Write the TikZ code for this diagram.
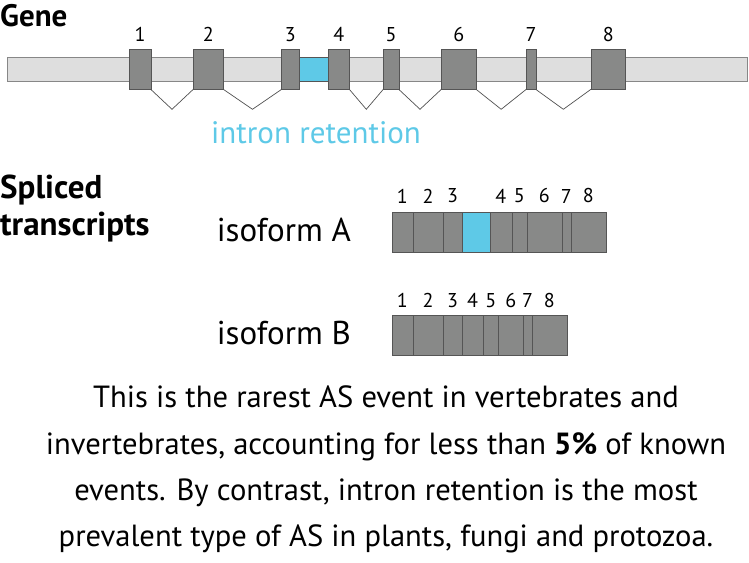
\documentclass[tikz,border=0pt]{standalone}
\usepackage{fontspec}
\setmainfont{PT Sans}
\usetikzlibrary{positioning,calc}

\definecolor{exongray}{RGB}{136,137,136}
\definecolor{exonline}{RGB}{85,85,85}
\definecolor{barfill}{RGB}{222,222,222}
\definecolor{barline}{RGB}{135,135,135}
\definecolor{retaincyan}{RGB}{94,201,231}
\definecolor{introngray}{RGB}{80,80,80}

\begin{document}
\begin{tikzpicture}[x=1pt, y=-1pt]
        \tikzstyle{exon} = [draw=exonline, fill=exongray, rectangle, inner sep=0pt, outer sep=0pt, minimum height=40pt];
        \tikzstyle{retained} = [draw=exonline, fill=retaincyan, rectangle, inner sep=0pt, outer sep=0pt, minimum height=23.7pt];
        \tikzstyle{segment} = [draw=exonline, fill=exongray, rectangle, inner sep=0pt, outer sep=0pt, minimum height=40pt];
        \tikzstyle{num} = [inner sep=0pt, font=\fontsize{20}{24}\selectfont];
        \tikzstyle{intron} = [draw=introngray, line width=0.7pt];

        \useasboundingbox (0,0) rectangle (749,562);

        % gene
        \node(gene)[anchor=base west, inner sep=0pt, font=\bfseries\fontsize{31}{36}\selectfont] at (0,27){Gene};
        \node(bar)[draw=barline, fill=barfill, rectangle, inner sep=0pt, outer sep=0pt, minimum width=740pt, minimum height=23.7pt] at (377.5,69.2){};

        \node(e1)[exon, minimum width=21.4pt] at (140,69.3){};
        \node(e2)[exon, minimum width=30pt] at (208.3,69.3){};
        \node(e3)[exon, minimum width=17.3pt] at (290.3,69.3){};
        \node(ri)[retained, minimum width=29.3pt] at (313.7,69.2){};
        \node(e4)[exon, minimum width=21pt] at (338.8,69.3){};
        \node(e5)[exon, minimum width=15.4pt] at (391,69.3){};
        \node(e6)[exon, minimum width=34.7pt] at (458.7,69.3){};
        \node(e7)[exon, minimum width=9.4pt] at (531,69.3){};
        \node(e8)[exon, minimum width=34.7pt] at (608.3,69.3){};

        \node(n1)[num, above=7.6pt of e1]{1};
        \node(n2)[num, above=7.6pt of e2]{2};
        \node(n3)[num, above=7.6pt of e3]{3};
        \node(n4)[num, above=7.6pt of e4]{4};
        \node(n5)[num, above=7.6pt of e5]{5};
        \node(n6)[num, above=7.6pt of e6]{6};
        \node(n7)[num, above=7.6pt of e7]{7};
        \node(n8)[num, above=7.6pt of e8]{8};

        % introns spliced out
        \draw[intron] (e1.south east) -- ($(e1.south east)!0.5!(e2.south west)+(0,20)$) -- (e2.south west);
        \draw[intron] (e2.south east) -- ($(e2.south east)!0.5!(e3.south west)+(0,20)$) -- (e3.south west);
        \draw[intron] (e4.south east) -- ($(e4.south east)!0.5!(e5.south west)+(0,20)$) -- (e5.south west);
        \draw[intron] (e5.south east) -- ($(e5.south east)!0.5!(e6.south west)+(0,20)$) -- (e6.south west);
        \draw[intron] (e6.south east) -- ($(e6.south east)!0.5!(e7.south west)+(0,20)$) -- (e7.south west);
        \draw[intron] (e7.south east) -- ($(e7.south east)!0.5!(e8.south west)+(0,20)$) -- (e8.south west);

        \node(irlabel)[anchor=base, inner sep=0pt, text=retaincyan, font=\fontsize{31}{36}\selectfont] at (316,143.3){intron retention};

        % spliced transcripts
        \node(spliced)[anchor=north west, inner sep=0pt, align=left, font=\bfseries\fontsize{33}{36.7}\selectfont] at (0,175){Spliced\\transcripts};
        \node(isoA)[anchor=base west, inner sep=0pt, font=\fontsize{33}{38}\selectfont] at (216.7,241.5){isoform A};
        \node(isoB)[anchor=base west, inner sep=0pt, font=\fontsize{33}{38}\selectfont] at (216.7,344){isoform B};

        \node(a1)[segment, minimum width=21pt, anchor=west] at (391.7,232.3){};
        \node(a2)[segment, minimum width=30.6pt, right=0pt of a1]{};
        \node(a3)[segment, minimum width=18.4pt, right=0pt of a2]{};
        \node(ar)[segment, fill=retaincyan, minimum width=28.3pt, right=0pt of a3]{};
        \node(a4)[segment, minimum width=21.7pt, right=0pt of ar]{};
        \node(a5)[segment, minimum width=15pt, right=0pt of a4]{};
        \node(a6)[segment, minimum width=35pt, right=0pt of a5]{};
        \node(a7)[segment, minimum width=9pt, right=0pt of a6]{};
        \node(a8)[segment, minimum width=35pt, right=0pt of a7]{};

        \node(an1)[num, above=9pt of a1]{1};
        \node(an2)[num, above=9pt of a2]{2};
        \node(an3)[num, above=9pt of a3]{3};
        \node(an4)[num, above=9pt of a4]{4};
        \node(an5)[num, above=9pt of a5]{5};
        \node(an6)[num, above=9pt of a6]{6};
        \node(an7)[num, above=9pt of a7]{7};
        \node(an8)[num, above=9pt of a8]{8};

        \node(b1)[segment, minimum width=21pt, anchor=west] at (391.7,334.8){};
        \node(b2)[segment, minimum width=30.6pt, right=0pt of b1]{};
        \node(b3)[segment, minimum width=18.4pt, right=0pt of b2]{};
        \node(b4)[segment, minimum width=21.6pt, right=0pt of b3]{};
        \node(b5)[segment, minimum width=15pt, right=0pt of b4]{};
        \node(b6)[segment, minimum width=25pt, right=0pt of b5]{};
        \node(b7)[segment, minimum width=8.7pt, right=0pt of b6]{};
        \node(b8)[segment, minimum width=34.7pt, right=0pt of b7]{};

        \node(bn1)[num, above=7.3pt of b1]{1};
        \node(bn2)[num, above=7.3pt of b2]{2};
        \node(bn3)[num, above=7.3pt of b3]{3};
        \node(bn4)[num, above=7.3pt of b4]{4};
        \node(bn5)[num, above=7.3pt of b5]{5};
        \node(bn6)[num, above=7.3pt of b6]{6};
        \node(bn7)[num, above=7.3pt of b7]{7};
        \node(bn8)[num, above=7.3pt of b8]{8};

        % note
        \node(note)[anchor=north, inner sep=0pt, align=center, font=\fontsize{30.6}{46.3}\selectfont] at (386,386){This is the rarest AS event in vertebrates and\\invertebrates, accounting for less than \textbf{5\%} of known\\events. By contrast, intron retention is the most\\prevalent type of AS in plants, fungi and protozoa.};
    \end{tikzpicture}
\end{document}
